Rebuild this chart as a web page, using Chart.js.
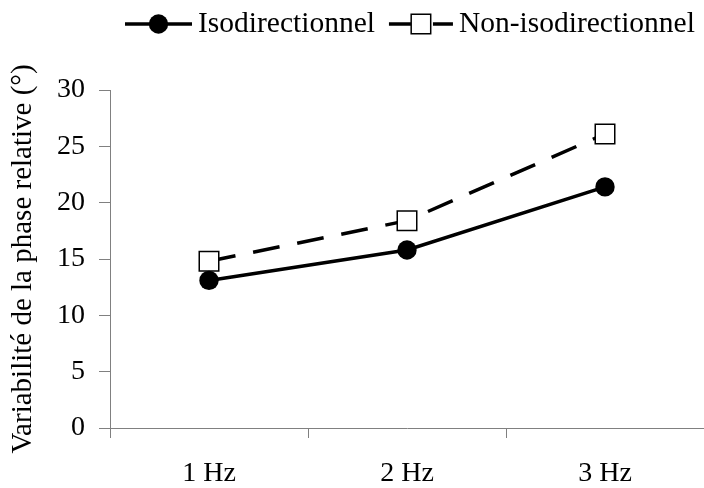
<!DOCTYPE html>
<html lang="fr">
<head>
<meta charset="utf-8">
<title>Variabilité de la phase relative</title>
<script src="https://cdn.jsdelivr.net/npm/chart.js@4.4.1/dist/chart.umd.min.js"></script>
<style>
    html, body { margin: 0; padding: 0; background: #ffffff; overflow: hidden; }
    #wrap { width: 704px; height: 488px; }
</style>
</head>
<body>
<div id="wrap"><canvas id="phaseChart" width="704" height="488"></canvas></div>
<script>
const categories   = ['1 Hz', '2 Hz', '3 Hz'];
const isoValues    = [13.1, 15.8, 21.4];
const nonIsoValues = [14.8, 18.4, 26.1];
const yTicks       = [0, 5, 10, 15, 20, 25, 30];
const seriesNames  = ['Isodirectionnel', 'Non-isodirectionnel'];

const FONT = "'Liberation Serif', 'Times New Roman', serif";
const AXIS_GREY = '#808080';

// legend drawn on top of the canvas: line + marker + label, like the original figure
const topLegend = {
    id: 'topLegend',
    afterDraw(chart) {
        const ctx = chart.ctx;
        const y = 24;
        let x = 125;
        ctx.save();
        ctx.font = '29.5px ' + FONT;
        ctx.textBaseline = 'middle';
        ctx.textAlign = 'left';

        chart.data.datasets.forEach(function (ds, i) {
            const lineW = i === 0 ? 67 : 64;
            const mid = x + lineW / 2;

            ctx.strokeStyle = ds.borderColor;
            ctx.lineWidth = ds.borderWidth;
            ctx.setLineDash([]);
            ctx.beginPath();
            if (ds.borderDash && ds.borderDash.length) {
                ctx.moveTo(x, y);              ctx.lineTo(x + 22, y);
                ctx.moveTo(x + lineW - 20, y); ctx.lineTo(x + lineW, y);
            } else {
                ctx.moveTo(x, y);
                ctx.lineTo(x + lineW, y);
            }
            ctx.stroke();

            ctx.fillStyle = ds.pointBackgroundColor;
            ctx.strokeStyle = ds.pointBorderColor;
            ctx.lineWidth = ds.pointBorderWidth;
            if (ds.pointStyle === 'rect') {
                const s = ds.pointRadius * Math.SQRT1_2;
                ctx.fillRect(mid - s, y - s, 2 * s, 2 * s);
                ctx.strokeRect(mid - s, y - s, 2 * s, 2 * s);
            } else {
                ctx.beginPath();
                ctx.arc(mid, y, ds.pointRadius, 0, Math.PI * 2);
                ctx.fill();
            }

            const tx = x + lineW + 6;
            ctx.fillStyle = '#000000';
            ctx.fillText(ds.label, tx, y);
            x = tx + ctx.measureText(ds.label).width + 14;
        });
        ctx.restore();
    }
};

new Chart(document.getElementById('phaseChart'), {
    type: 'line',
    data: {
        labels: categories,
        datasets: [
            {
                label: seriesNames[0],
                data: isoValues,
                borderColor: '#000000',
                borderWidth: 3.5,
                pointStyle: 'circle',
                pointRadius: 9.7,
                pointBackgroundColor: '#000000',
                pointBorderColor: '#000000',
                pointBorderWidth: 0,
                tension: 0,
                order: 1,
            },
            {
                label: seriesNames[1],
                data: nonIsoValues,
                borderColor: '#000000',
                borderWidth: 3.5,
                borderDash: [27, 18],
                pointStyle: 'rect',
                pointRadius: 13.8,
                pointBackgroundColor: '#ffffff',
                pointBorderColor: '#000000',
                pointBorderWidth: 1.5,
                tension: 0,
                order: 2,
            }
        ]
    },
    options: {
        responsive: false,
        animation: false,
        layout: { autoPadding: false, padding: { top: 90, right: 0, bottom: 0, left: 0 } },
        plugins: {
            legend: { display: false },
            tooltip: { enabled: false },
        },
        scales: {
            x: {
                offset: true,
                grid: { display: true, offset: true, drawOnChartArea: false, color: AXIS_GREY, tickLength: 10, lineWidth: 1 },
                border: { display: true, color: AXIS_GREY, width: 1 },
                ticks: { font: { family: FONT, size: 28 }, color: '#000000', padding: 19, maxRotation: 0 },
                afterFit: function (scale) {
                    scale.height = 60;
                    scale.paddingLeft = 0;
                    scale.paddingRight = 0;
                },
            },
            y: {
                min: 0,
                max: 30,
                afterBuildTicks: function (scale) {
                    scale.ticks = yTicks.map(function (v) { return { value: v }; });
                },
                grid: { display: true, drawOnChartArea: false, color: AXIS_GREY, tickLength: 11, lineWidth: 1 },
                border: { display: true, color: AXIS_GREY, width: 1 },
                ticks: { font: { family: FONT, size: 28 }, color: '#000000', padding: 14 },
                title: {
                    display: true,
                    text: 'Variabilité de la phase relative (°)',
                    font: { family: FONT, size: 29 },
                    color: '#000000',
                    padding: { top: 6, bottom: 0 },
                },
                afterFit: function (scale) { scale.width = 110; },
            }
        }
    },
    plugins: [topLegend]
});
</script>
</body>
</html>
